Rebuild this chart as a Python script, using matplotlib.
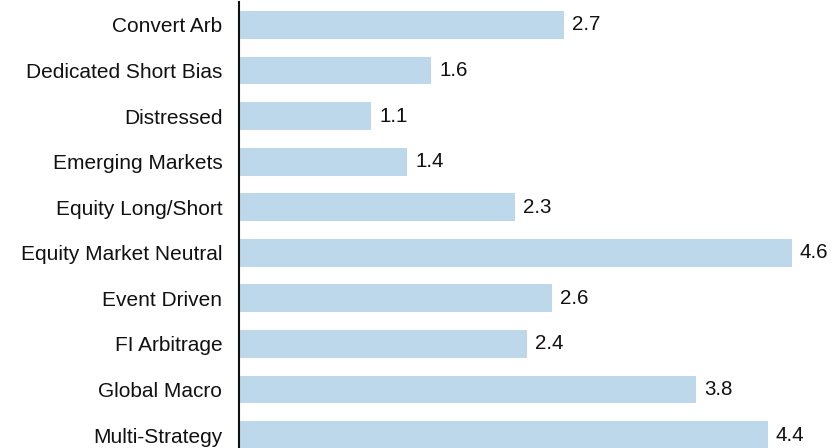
import matplotlib
matplotlib.use("Agg")
import matplotlib.pyplot as plt

strategies = [
    "Convert Arb",
    "Dedicated Short Bias",
    "Distressed",
    "Emerging Markets",
    "Equity Long/Short",
    "Equity Market Neutral",
    "Event Driven",
    "FI Arbitrage",
    "Global Macro",
    "Multi-Strategy",
]
values = [2.7, 1.6, 1.1, 1.4, 2.3, 4.6, 2.6, 2.4, 3.8, 4.4]

plt.rcParams["font.family"] = ["Liberation Sans", "DejaVu Sans"]

W, H, DPI = 834, 448, 100
fig = plt.figure(figsize=(W / DPI, H / DPI), dpi=DPI)
left, right, top, bottom = 239, 834, 2, 448
ax = fig.add_axes([left / W, 1 - bottom / H, (right - left) / W, (bottom - top) / H])

pos = list(range(len(strategies)))
ax.barh(pos, values, height=0.61, color="#BDD8EB", edgecolor="none", zorder=2)

for y, v in zip(pos, values):
    ax.annotate(f"{v:.1f}", xy=(v, y), xytext=(8, 0), textcoords="offset pixels",
                va="center", ha="left", fontsize=14.8, color="#111111")

ax.set_xlim(0, 4.95)
ax.set_ylim(9.285, -0.504)
ax.set_yticks(pos)
ax.set_yticklabels(strategies, fontsize=15, color="#111111")
ax.tick_params(axis="y", length=0, pad=12)
ax.set_xticks([])

for side in ("top", "right", "bottom"):
    ax.spines[side].set_visible(False)
ax.spines["left"].set_linewidth(1.5)
ax.spines["left"].set_color("#111111")

fig.savefig("out.png", dpi=DPI)
